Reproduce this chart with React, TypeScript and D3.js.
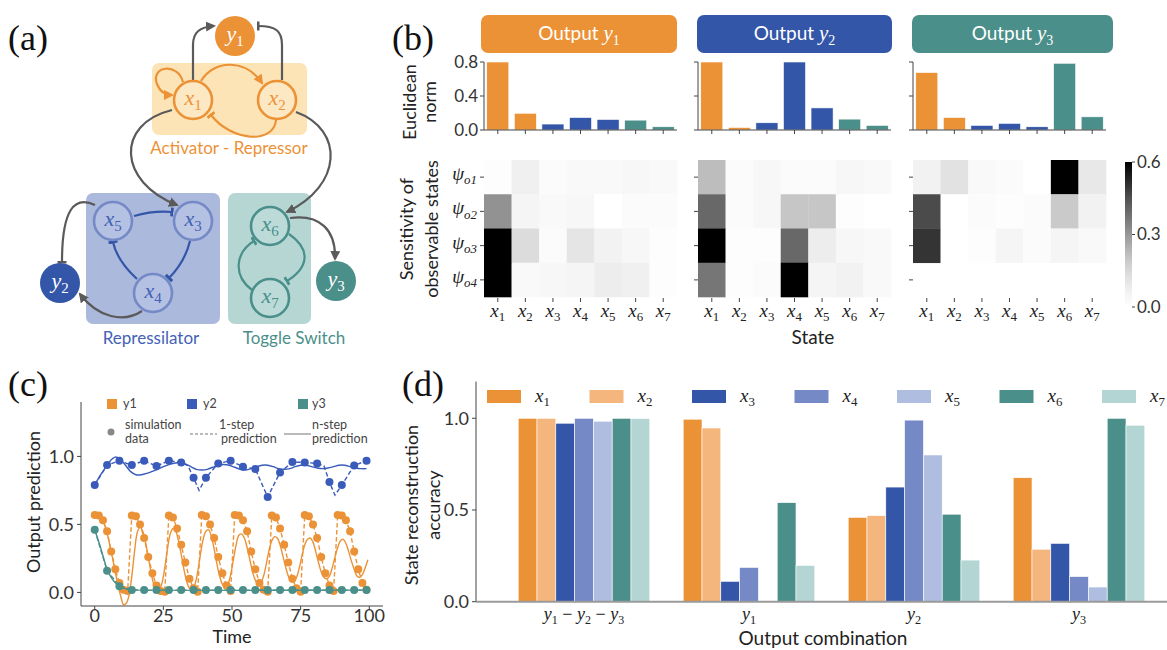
import React from 'react';
import * as d3 from 'd3';

const ORANGE = '#EC9236';
const ORANGE_L = '#F5B67E';
const BLUE = '#3456A8';
const BLUE_M = '#7489C6';
const BLUE_L = '#AFBDE0';
const TEAL = '#4A8F8A';
const TEAL_L = '#B3D6D4';
const GRAY = '#5a5a5a';
const AX = '#444';
const SANS = "Lato, 'Open Sans', sans-serif";
const MATH = "'Liberation Serif', 'DejaVu Serif', serif";

// ---------- panel (b) data ----------
const stateLabels = ['1', '2', '3', '4', '5', '6', '7'];
const obsLabels = ['o1', 'o2', 'o3', 'o4'];
const stateColors = [ORANGE, ORANGE, BLUE, BLUE, BLUE, TEAL, TEAL];
const normY1 = [0.8, 0.197, 0.07, 0.147, 0.124, 0.116, 0.038];
const normY2 = [0.8, 0.03, 0.085, 0.8, 0.26, 0.128, 0.054];
const normY3 = [0.676, 0.147, 0.054, 0.078, 0.038, 0.785, 0.155];
const normTicks = [0, 0.4, 0.8];
const sensTicks = [0, 0.3, 0.6];
const sensY1 = [
  [0.01, 0.07, 0.02, 0.03, 0.03, 0.04, 0.03],
  [0.31, 0.05, 0.03, 0.04, 0.0, 0.02, 0.02],
  [0.6, 0.14, 0.02, 0.11, 0.06, 0.04, 0.01],
  [0.6, 0.03, 0.04, 0.05, 0.08, 0.07, 0.01],
];
const sensY2 = [
  [0.22, 0.02, 0.04, 0.02, 0.02, 0.04, 0.03],
  [0.4, 0.02, 0.04, 0.2, 0.2, 0.01, 0.0],
  [0.6, 0.01, 0.01, 0.4, 0.08, 0.04, 0.03],
  [0.37, 0.01, 0.02, 0.6, 0.05, 0.06, 0.03],
];
const sensY3 = [
  [0.06, 0.12, 0.03, 0.02, 0.0, 0.6, 0.1],
  [0.46, 0.0, 0.02, 0.01, 0.02, 0.19, 0.06],
  [0.5, 0.0, 0.01, 0.05, 0.02, 0.05, 0.03],
  null,
];

// ---------- panel (c) data ----------
const timeTicks = [0, 25, 50, 75, 100];
const predTicks = [0, 0.5, 1.0];
const y1Sim: [number, number][] = [
  [0, 0.57], [1.5, 0.565], [3, 0.53], [4.5, 0.45], [6, 0.3], [7.5, 0.17], [9, 0.07], [10.5, 0.02], [12, 0.01],
  [13.5, 0.565], [15, 0.56], [16.5, 0.5], [18, 0.4], [19.5, 0.26], [21, 0.14], [22.5, 0.05], [24, 0.01], [25.5, 0.005],
  [27, 0.565], [28.5, 0.55], [30, 0.47], [31.5, 0.35], [33, 0.22], [34.5, 0.1], [36, 0.03], [37.5, 0.005],
  [39, 0.57], [40.5, 0.56], [42, 0.5], [43.5, 0.4], [45, 0.26], [46.5, 0.14], [48, 0.05], [49.5, 0.01],
  [51, 0.57], [52.5, 0.565], [54, 0.53], [55.5, 0.45], [57, 0.3], [58.5, 0.17], [60, 0.07], [61.5, 0.02], [63, 0.005],
  [64.5, 0.565], [66, 0.55], [67.5, 0.47], [69, 0.35], [70.5, 0.22], [72, 0.1], [73.5, 0.03], [75, 0.005],
  [76.5, 0.57], [78, 0.56], [79.5, 0.5], [81, 0.4], [82.5, 0.26], [84, 0.14], [85.5, 0.05], [87, 0.01],
  [88.5, 0.57], [90, 0.565], [91.5, 0.53], [93, 0.45], [94.5, 0.3], [96, 0.17], [97.5, 0.07], [99, 0.02],
];
const y1NStep: [number, number][] = [
  [0, 0.57], [2, 0.56], [4, 0.47], [6, 0.3], [8, 0.1], [9.5, -0.03], [10.5, -0.09], [11.5, -0.08], [12.5, -0.02],
  [13.5, 0.12], [14.5, 0.3], [15.5, 0.44], [16.5, 0.48], [17.5, 0.45], [18.5, 0.37], [19.5, 0.26], [20.5, 0.15],
  [21.5, 0.06], [22.5, 0.02], [23.5, 0.02], [24.5, 0.07], [25.5, 0.18], [26.5, 0.32], [27.5, 0.43], [28.5, 0.47],
  [29.5, 0.45], [30.5, 0.38], [31.5, 0.28], [32.5, 0.17], [33.5, 0.08], [34.5, 0.03], [35.5, 0.02], [36.5, 0.06],
  [37.5, 0.15], [38.5, 0.28], [39.5, 0.39], [40.5, 0.45], [41.5, 0.46], [42.5, 0.41], [43.5, 0.32], [44.5, 0.21],
  [45.5, 0.12], [46.5, 0.06], [47.5, 0.04], [48.5, 0.06], [49.5, 0.13], [50.5, 0.24], [51.5, 0.35], [52.5, 0.42],
  [53.5, 0.43], [54.5, 0.4], [55.5, 0.33], [56.5, 0.24], [57.5, 0.15], [58.5, 0.09], [59.5, 0.06], [60.5, 0.07],
  [61.5, 0.12], [62.5, 0.21], [63.5, 0.31], [64.5, 0.38], [65.5, 0.41], [66.5, 0.4], [67.5, 0.35], [68.5, 0.27],
  [69.5, 0.19], [70.5, 0.12], [71.5, 0.08], [72.5, 0.08], [73.5, 0.11], [74.5, 0.18], [75.5, 0.27], [76.5, 0.35],
  [77.5, 0.39], [78.5, 0.4], [79.5, 0.37], [80.5, 0.3], [81.5, 0.22], [82.5, 0.15], [83.5, 0.11], [84.5, 0.1],
  [85.5, 0.12], [86.5, 0.18], [87.5, 0.26], [88.5, 0.33], [89.5, 0.38], [90.5, 0.39], [91.5, 0.36], [92.5, 0.3],
  [93.5, 0.23], [94.5, 0.17], [95.5, 0.12], [96.5, 0.11], [97.5, 0.13], [98.5, 0.18], [99.5, 0.24],
];
const y2Sim: [number, number][] = [
  [0, 0.789], [4.5, 0.936], [9, 0.968], [13.5, 0.936], [18, 0.968], [22.5, 0.929], [27, 0.968], [31.5, 0.956],
  [36, 0.843], [40.5, 0.843], [45, 0.948], [49.5, 0.968], [54, 0.924], [58.5, 0.907], [63, 0.701], [67.5, 0.882],
  [72, 0.958], [76.5, 0.956], [81, 0.948], [85.5, 0.811], [90, 0.789], [94.5, 0.934], [99, 0.968],
];
const y2OneStep: [number, number][] = [
  [0, 0.789], [4.5, 0.936], [9, 0.968], [13.5, 0.936], [18, 0.968], [22.5, 0.929], [27, 0.968], [31.5, 0.956],
  [34, 0.93], [36, 0.843], [38, 0.75], [40.5, 0.843], [45, 0.948], [49.5, 0.968], [54, 0.924], [58.5, 0.907],
  [63, 0.701], [67.5, 0.882], [72, 0.958], [76.5, 0.956], [81, 0.948], [83.5, 0.93], [85.5, 0.811], [87.5, 0.715],
  [90, 0.789], [94.5, 0.934], [99, 0.968],
];
const y2NStep: [number, number][] = [
  [0, 0.79], [2, 0.86], [4, 0.92], [6, 0.975], [7.5, 0.995], [9, 0.985], [11, 0.94], [13, 0.89], [15, 0.865],
  [17, 0.865], [19, 0.875], [21, 0.89], [23, 0.905], [25, 0.925], [27, 0.94], [29, 0.95], [31, 0.955], [33, 0.945],
  [35, 0.925], [37, 0.905], [39, 0.9], [41, 0.905], [43, 0.92], [45, 0.935], [47, 0.94], [49, 0.935], [51, 0.92],
  [53, 0.905], [55, 0.9], [57, 0.91], [59, 0.925], [61, 0.935], [63, 0.935], [65, 0.925], [67, 0.91], [69, 0.905],
  [71, 0.91], [73, 0.925], [75, 0.935], [77, 0.935], [79, 0.925], [81, 0.915], [83, 0.91], [85, 0.915], [87, 0.925],
  [89, 0.935], [91, 0.935], [93, 0.925], [95, 0.915], [97, 0.91], [99, 0.91],
];
const y3Sim: [number, number][] = [
  [0, 0.46], [4.5, 0.16], [9, 0.045], [13.5, 0.017], [18, 0.017], [22.5, 0.017], [27, 0.017], [31.5, 0.017],
  [36, 0.017], [40.5, 0.017], [45, 0.017], [49.5, 0.017], [54, 0.017], [58.5, 0.017], [63, 0.017], [67.5, 0.017],
  [72, 0.017], [76.5, 0.017], [81, 0.017], [85.5, 0.017], [90, 0.017], [94.5, 0.017], [99, 0.017],
];
const y3NStep: [number, number][] = [
  [0, 0.46], [1.5, 0.37], [3, 0.27], [4.5, 0.17], [6, 0.11], [7.5, 0.07], [9, 0.045], [11, 0.028], [13, 0.02],
  [16, 0.017], [99, 0.017],
];

// ---------- panel (d) data ----------
const combos = ['y1y2y3', 'y1', 'y2', 'y3'];
const accKeys = ['1', '2', '3', '4', '5', '6', '7'];
const accX1 = [1.0, 0.995, 0.46, 0.676];
const accX2 = [1.0, 0.947, 0.469, 0.286];
const accX3 = [0.973, 0.111, 0.625, 0.318];
const accX4 = [1.0, 0.187, 0.99, 0.137];
const accX5 = [0.984, 0.0, 0.8, 0.08];
const accX6 = [1.0, 0.54, 0.477, 1.0];
const accX7 = [0.999, 0.198, 0.227, 0.962];
const accColors = [ORANGE, ORANGE_L, BLUE, BLUE_M, BLUE_L, TEAL, TEAL_L];
const accTicks = [0, 0.5, 1.0];

const fmt1 = d3.format('.1f');

function MSub({ x, y, base, sub, size, fill, anchor = 'middle', italicSub = false, family = MATH }: any) {
  return (
    <text x={x} y={y} fontSize={size} fill={fill} textAnchor={anchor} fontFamily={family}>
      <tspan fontStyle="italic" fontFamily={MATH}>{base}</tspan>
      <tspan fontSize={size * 0.68} dy={size * 0.22} fontStyle={italicSub ? 'italic' : 'normal'} fontFamily={MATH}>{sub}</tspan>
    </text>
  );
}

// ---------- Panel (a) ----------
function PanelA() {
  const node = (cx: number, cy: number, sub: string, stroke: string, fill: string, txt: string) => (
    <g>
      <circle cx={cx} cy={cy} r={19} fill={fill} stroke={stroke} strokeWidth={2.6} />
      <MSub x={cx} y={cy + 5} base="x" sub={sub} size={22} fill={txt} />
    </g>
  );
  const out = (cx: number, cy: number, sub: string, fill: string) => (
    <g>
      <circle cx={cx} cy={cy} r={20} fill={fill} />
      <MSub x={cx} y={cy + 5} base="y" sub={sub} size={22} fill="#fff" />
    </g>
  );
  return (
    <g>
      <defs>
        <marker id="arrGray" viewBox="0 0 10 10" refX="8" refY="5" markerWidth="10" markerHeight="10" markerUnits="userSpaceOnUse" orient="auto">
          <path d="M0,0 L10,5 L0,10 z" fill={GRAY} />
        </marker>
        <marker id="arrOrange" viewBox="0 0 10 10" refX="8" refY="5" markerWidth="10" markerHeight="10" markerUnits="userSpaceOnUse" orient="auto">
          <path d="M0,0 L10,5 L0,10 z" fill={ORANGE} />
        </marker>
        {[['teeGray', GRAY], ['teeOrange', ORANGE], ['teeBlue', BLUE], ['teeTeal', TEAL]].map(([id, c]) => (
          <marker key={id} id={id} viewBox="0 0 4 12" refX="2" refY="6" markerWidth="3" markerHeight="11" markerUnits="userSpaceOnUse" orient="auto">
            <rect x="0" y="0" width="4" height="12" fill={c} />
          </marker>
        ))}
      </defs>
      <text x={8} y={50} fontSize={36} fontFamily={MATH} fill="#111">(a)</text>
      <rect x={152} y={63} width={155} height={72} rx={7} fill="#FCE4B6" />
      <rect x={86} y={193} width={134} height={131} rx={7} fill="#ABB9DD" />
      <rect x={228} y={193} width={83} height={131} rx={7} fill="#B6D6D4" />
      <text x={229} y={154} fontSize={17} fontFamily={SANS} fill={ORANGE} textAnchor="middle">Activator - Repressor</text>
      <text x={151} y={344} fontSize={17} fontFamily={SANS} fill="#4362B6" textAnchor="middle">Repressilator</text>
      <text x={294} y={344} fontSize={17} fontFamily={SANS} fill={TEAL} textAnchor="middle">Toggle Switch</text>
      <g fill="none" strokeWidth={2.2}>
        <path d="M183,82 C178,62 150,66 157,84 C160,92 166,95 172,95" stroke={ORANGE} markerEnd="url(#arrOrange)" />
        <path d="M201,81 C214,59 246,59 262,83" stroke={ORANGE} markerEnd="url(#arrOrange)" />
        <path d="M276,120 C274,144 232,142 211,115" stroke={ORANGE} markerEnd="url(#teeOrange)" />
        <path d="M193,80 L193,45 C193,32 200,27 214,26" stroke={GRAY} markerEnd="url(#arrGray)" />
        <path d="M282,80 L282,45 C282,31 276,26 258,26" stroke={GRAY} markerEnd="url(#teeGray)" />
        <path d="M172,110 C115,124 118,182 177,205" stroke={GRAY} markerEnd="url(#arrGray)" />
        <path d="M296,112 C345,130 342,186 287,212" stroke={GRAY} markerEnd="url(#arrGray)" />
        <path d="M134,216 C148,212 160,211 172,212" stroke={BLUE} markerEnd="url(#teeBlue)" />
        <path d="M190,241 C186,257 179,268 169,278" stroke={BLUE} markerEnd="url(#teeBlue)" />
        <path d="M137,279 C125,268 116,256 113,242" stroke={BLUE} markerEnd="url(#teeBlue)" />
        <path d="M95,205 C74,195 62,210 62,262" stroke={GRAY} markerEnd="url(#teeGray)" />
        <path d="M142,311 C124,323 98,318 80,294" stroke={GRAY} markerEnd="url(#arrGray)" />
        <path d="M289,234 C312,250 308,268 287,281" stroke={TEAL} markerEnd="url(#teeTeal)" />
        <path d="M252,290 C232,275 236,252 254,241" stroke={TEAL} markerEnd="url(#teeTeal)" />
        <path d="M290,218 C320,214 336,230 335,259" stroke={GRAY} markerEnd="url(#arrGray)" />
      </g>
      {node(193, 100, '1', ORANGE, '#FDE8C4', ORANGE)}
      {node(277, 100, '2', ORANGE, '#FDE8C4', ORANGE)}
      {node(113, 221, '5', BLUE_M, '#B4C1E2', '#4362B6')}
      {node(193, 221, '3', BLUE_M, '#B4C1E2', '#4362B6')}
      {node(153, 293, '4', BLUE_M, '#B4C1E2', '#4362B6')}
      {node(270, 226, '6', TEAL, '#BCDAD8', TEAL)}
      {node(270, 298, '7', TEAL, '#BCDAD8', TEAL)}
      {out(235, 36, '1', ORANGE)}
      {out(60, 283, '2', BLUE)}
      {out(336, 281, '3', TEAL)}
    </g>
  );
}

// ---------- Panel (b) ----------
function PanelB() {
  const panels = [
    { x0: 484, x1: 677, tx0: 481, tx1: 677, color: ORANGE, sub: '1', norms: normY1, sens: sensY1 },
    { x0: 698, x1: 891, tx0: 697, tx1: 892, color: BLUE, sub: '2', norms: normY2, sens: sensY2 },
    { x0: 913, x1: 1106, tx0: 912, tx1: 1113, color: TEAL, sub: '3', norms: normY3, sens: sensY3 },
  ];
  const yBar = d3.scaleLinear().domain([0, 0.8]).range([130, 62]);
  const yHeat = d3.scaleBand().domain(obsLabels).range([160, 297]);
  const grey = d3.scaleSequential(d3.interpolateGreys).domain([0, 0.6]);
  const cb = d3.scaleLinear().domain([0, 0.6]).range([307, 162]);
  const stops = d3.range(0, 1.0001, 0.1);
  return (
    <g>
      <defs>
        <linearGradient id="cbGrad" x1="0" y1="1" x2="0" y2="0">
          {stops.map((s) => <stop key={s} offset={s} stopColor={d3.interpolateGreys(s)} />)}
        </linearGradient>
      </defs>
      <text x={392} y={50} fontSize={36} fontFamily={MATH} fill="#111">(b)</text>
      <text transform="translate(416,102) rotate(-90)" fontSize={18} fontFamily={SANS} fill="#222" textAnchor="middle">Euclidean</text>
      <text transform="translate(436,102) rotate(-90)" fontSize={18} fontFamily={SANS} fill="#222" textAnchor="middle">norm</text>
      <text transform="translate(413,229) rotate(-90)" fontSize={18} fontFamily={SANS} fill="#222" textAnchor="middle">Sensitivity of</text>
      <text transform="translate(438,229) rotate(-90)" fontSize={18} fontFamily={SANS} fill="#222" textAnchor="middle">observable states</text>
      {panels.map((p, pi) => {
        const xb = d3.scaleBand().domain(stateLabels).range([p.x0, p.x1]).paddingInner(0.2).paddingOuter(0.1);
        const xh = d3.scaleBand().domain(stateLabels).range([p.x0, p.x1]);
        const mid = (p.tx0 + p.tx1) / 2;
        return (
          <g key={pi}>
            <rect x={p.tx0} y={15} width={p.tx1 - p.tx0} height={38} rx={7} fill={p.color} />
            <text x={mid} y={40} textAnchor="middle" fontSize={19} fill="#fff" fontFamily={SANS}>
              <tspan>Output </tspan>
              <tspan fontStyle="italic" fontFamily={MATH} fontSize={21}>y</tspan>
              <tspan fontFamily={MATH} fontSize={14} dy={5}>{p.sub}</tspan>
            </text>
            {p.norms.map((v, i) => (
              <rect key={i} x={xb(stateLabels[i])} y={yBar(v)} width={xb.bandwidth()} height={yBar(0) - yBar(v)}
                fill={stateColors[i]} stroke="#fff" strokeWidth={0.6} />
            ))}
            <line x1={p.x0} x2={p.x0} y1={yBar(0.8)} y2={yBar(0)} stroke={AX} strokeWidth={1} />
            <line x1={p.x0} x2={p.x1} y1={yBar(0)} y2={yBar(0)} stroke={AX} strokeWidth={1} />
            {normTicks.map((t) => (
              <g key={t}>
                <line x1={p.x0 - 4} x2={p.x0} y1={yBar(t)} y2={yBar(t)} stroke={AX} />
                {pi === 0 && (
                  <text x={p.x0 - 6} y={yBar(t)} dy="0.35em" textAnchor="end" fontSize={17} fill="#333" fontFamily={SANS}>{fmt1(t)}</text>
                )}
              </g>
            ))}
            {stateLabels.map((s) => (
              <line key={s} x1={xh(s)! + xh.bandwidth() / 2} x2={xh(s)! + xh.bandwidth() / 2} y1={yBar(0)} y2={yBar(0) + 4} stroke={AX} />
            ))}
            {p.sens.map((row, ri) =>
              row
                ? row.map((v, ci) => (
                    <rect key={`${ri}-${ci}`} x={xh(stateLabels[ci])} y={yHeat(obsLabels[ri])} width={xh.bandwidth() + 0.3}
                      height={yHeat.bandwidth() + 0.3} fill={grey(v)} />
                  ))
                : null
            )}
            {obsLabels.map((o) => (
              <g key={o}>
                <line x1={p.x0 - 4} x2={p.x0} y1={yHeat(o)! + yHeat.bandwidth() / 2} y2={yHeat(o)! + yHeat.bandwidth() / 2} stroke={AX} />
                {pi === 0 && (
                  <MSub x={p.x0 - 7} y={yHeat(o)! + yHeat.bandwidth() / 2 + 3} base="ψ" sub={o} size={19} fill="#222" anchor="end" italicSub={true} />
                )}
              </g>
            ))}
            {stateLabels.map((s) => (
              <g key={s}>
                <line x1={xh(s)! + xh.bandwidth() / 2} x2={xh(s)! + xh.bandwidth() / 2} y1={298} y2={302} stroke={AX} />
                <MSub x={xh(s)! + xh.bandwidth() / 2} y={317} base="x" sub={s} size={19} fill="#222" />
              </g>
            ))}
          </g>
        );
      })}
      <text x={813} y={344} textAnchor="middle" fontSize={19} fill="#222" fontFamily={SANS}>State</text>
      <rect x={1125} y={162} width={7} height={145} fill="url(#cbGrad)" />
      {sensTicks.map((t) => (
        <g key={t}>
          <line x1={1132} x2={1135} y1={cb(t)} y2={cb(t)} stroke={AX} />
          <text x={1137} y={cb(t)} dy="0.35em" fontSize={17} fill="#333" fontFamily={SANS}>{fmt1(t)}</text>
        </g>
      ))}
    </g>
  );
}

// ---------- Panel (c) ----------
function PanelC() {
  const x = d3.scaleLinear().domain([-5, 105]).range([81, 383]);
  const y = d3.scaleLinear().domain([-0.1, 1.4]).range([606, 402]);
  const lin = d3.line<[number, number]>().x((d) => x(d[0])).y((d) => y(d[1]));
  const smooth = d3.line<[number, number]>().x((d) => x(d[0])).y((d) => y(d[1])).curve(d3.curveCatmullRom);
  const series = [
    { sim: y2Sim, one: y2OneStep, n: y2NStep, c: '#3A5BBA' },
    { sim: y1Sim, one: y1Sim, n: y1NStep, c: ORANGE },
    { sim: y3Sim, one: y3Sim, n: y3NStep, c: TEAL },
  ];
  const lg = 12.5;
  return (
    <g>
      <text x={8} y={396} fontSize={36} fontFamily={MATH} fill="#111">(c)</text>
      {series.map((s, i) => (
        <g key={i}>
          <path d={smooth(s.n)!} fill="none" stroke={s.c} strokeWidth={1.4} />
          <path d={lin(s.one)!} fill="none" stroke={s.c} strokeWidth={1.4} strokeDasharray="4.5,2.5" />
          {s.sim.map((d, j) => (
            <circle key={j} cx={x(d[0])} cy={y(d[1])} r={4} fill={s.c} />
          ))}
        </g>
      ))}
      <line x1={81} x2={81} y1={402} y2={606} stroke={AX} />
      <line x1={81} x2={383} y1={606} y2={606} stroke={AX} />
      {predTicks.map((t) => (
        <g key={t}>
          <line x1={77} x2={81} y1={y(t)} y2={y(t)} stroke={AX} />
          <text x={74} y={y(t)} dy="0.35em" textAnchor="end" fontSize={18} fill="#333" fontFamily={SANS}>{fmt1(t)}</text>
        </g>
      ))}
      {timeTicks.map((t) => (
        <g key={t}>
          <line x1={x(t)} x2={x(t)} y1={606} y2={610} stroke={AX} />
          <text x={x(t)} y={622} textAnchor="middle" fontSize={18} fill="#333" fontFamily={SANS}>{t}</text>
        </g>
      ))}
      <text x={232} y={643} textAnchor="middle" fontSize={18} fill="#222" fontFamily={SANS}>Time</text>
      <text transform="translate(40,502) rotate(-90)" textAnchor="middle" fontSize={18} fill="#222" fontFamily={SANS}>Output prediction</text>
      <g fontFamily={SANS} fontSize={lg} fill="#444">
        <rect x={107} y={399} width={10} height={10} fill={ORANGE} />
        <text x={123} y={408}>y1</text>
        <rect x={187} y={399} width={10} height={10} fill="#3A5BBA" />
        <text x={203} y={408}>y2</text>
        <rect x={298} y={399} width={10} height={10} fill={TEAL} />
        <text x={312} y={408}>y3</text>
        <circle cx={111} cy={432} r={3.5} fill="#888" />
        <text x={125} y={429}>simulation</text>
        <text x={125} y={443}>data</text>
        <line x1={190} x2={217} y1={434} y2={434} stroke="#777" strokeWidth={1} strokeDasharray="3,2" />
        <text x={219} y={429}>1-step</text>
        <text x={221} y={443}>prediction</text>
        <line x1={284} x2={311} y1={434} y2={434} stroke="#777" strokeWidth={1} />
        <text x={312} y={429}>n-step</text>
        <text x={312} y={443}>prediction</text>
      </g>
    </g>
  );
}

// ---------- Panel (d) ----------
function PanelD() {
  const xg = d3.scaleBand().domain(combos).range([501.5, 1161.5]);
  const xs = d3.scaleBand().domain(accKeys).range([0, 131.6]);
  const y = d3.scaleLinear().domain([0, 1.2]).range([601.7, 381.6]);
  const accs = [accX1, accX2, accX3, accX4, accX5, accX6, accX7];
  const LY = 620;
  const labelFor = (c: string, cx: number) => {
    if (c === 'y1y2y3') {
      return (
        <text x={cx} y={LY} textAnchor="middle" fontSize={18} fill="#222" fontFamily={MATH}>
          <tspan fontStyle="italic">y</tspan><tspan fontSize={12} dy={4}>1</tspan>
          <tspan dy={-4}> − </tspan>
          <tspan fontStyle="italic">y</tspan><tspan fontSize={12} dy={4}>2</tspan>
          <tspan dy={-4}> − </tspan>
          <tspan fontStyle="italic">y</tspan><tspan fontSize={12} dy={4}>3</tspan>
        </text>
      );
    }
    return <MSub x={cx} y={LY} base="y" sub={c.slice(1)} size={18} fill="#222" />;
  };
  return (
    <g>
      <text x={402} y={396} fontSize={36} fontFamily={MATH} fill="#111">(d)</text>
      {combos.map((c, gi) => {
        const cx = xg(c)! + xg.bandwidth() / 2;
        return (
          <g key={c}>
            {accKeys.map((k, ki) => {
              const v = accs[ki][gi];
              return (
                <rect key={k} x={cx - 65.8 + xs(k)!} y={y(v)} width={xs.bandwidth()} height={y(0) - y(v)}
                  fill={accColors[ki]} stroke="#fff" strokeWidth={0.6} />
              );
            })}
            {labelFor(c, cx)}
          </g>
        );
      })}
      <line x1={476} x2={476} y1={381.6} y2={601.7} stroke={AX} />
      <line x1={476} x2={1167} y1={601.7} y2={601.7} stroke="#9a9a9a" strokeWidth={2} />
      {accTicks.map((t) => (
        <g key={t}>
          <line x1={472} x2={476} y1={y(t)} y2={y(t)} stroke={AX} />
          <text x={469} y={y(t)} dy="0.35em" textAnchor="end" fontSize={18} fill="#333" fontFamily={SANS}>{fmt1(t)}</text>
        </g>
      ))}
      <text transform="translate(418,505) rotate(-90)" textAnchor="middle" fontSize={18} fill="#222" fontFamily={SANS}>State reconstruction</text>
      <text transform="translate(440,505) rotate(-90)" textAnchor="middle" fontSize={18} fill="#222" fontFamily={SANS}>accuracy</text>
      <text x={823} y={645} textAnchor="middle" fontSize={19} fill="#222" fontFamily={SANS}>Output combination</text>
      {accKeys.map((k, i) => {
        const lx = 487 + 102.5 * i;
        return (
          <g key={k}>
            <rect x={lx} y={390} width={34} height={13} fill={accColors[i]} />
            <MSub x={lx + 48} y={402} base="x" sub={k} size={19} fill="#222" anchor="start" />
          </g>
        );
      })}
    </g>
  );
}

export default function App() {
  return (
    <svg width={1167} height={650} viewBox="0 0 1167 650" style={{ position: 'absolute', left: 0, top: 0, background: '#fff' }}
      fontFamily={SANS}>
      <rect x={0} y={0} width={1167} height={650} fill="#fff" />
      <PanelA />
      <PanelB />
      <PanelC />
      <PanelD />
    </svg>
  );
}
